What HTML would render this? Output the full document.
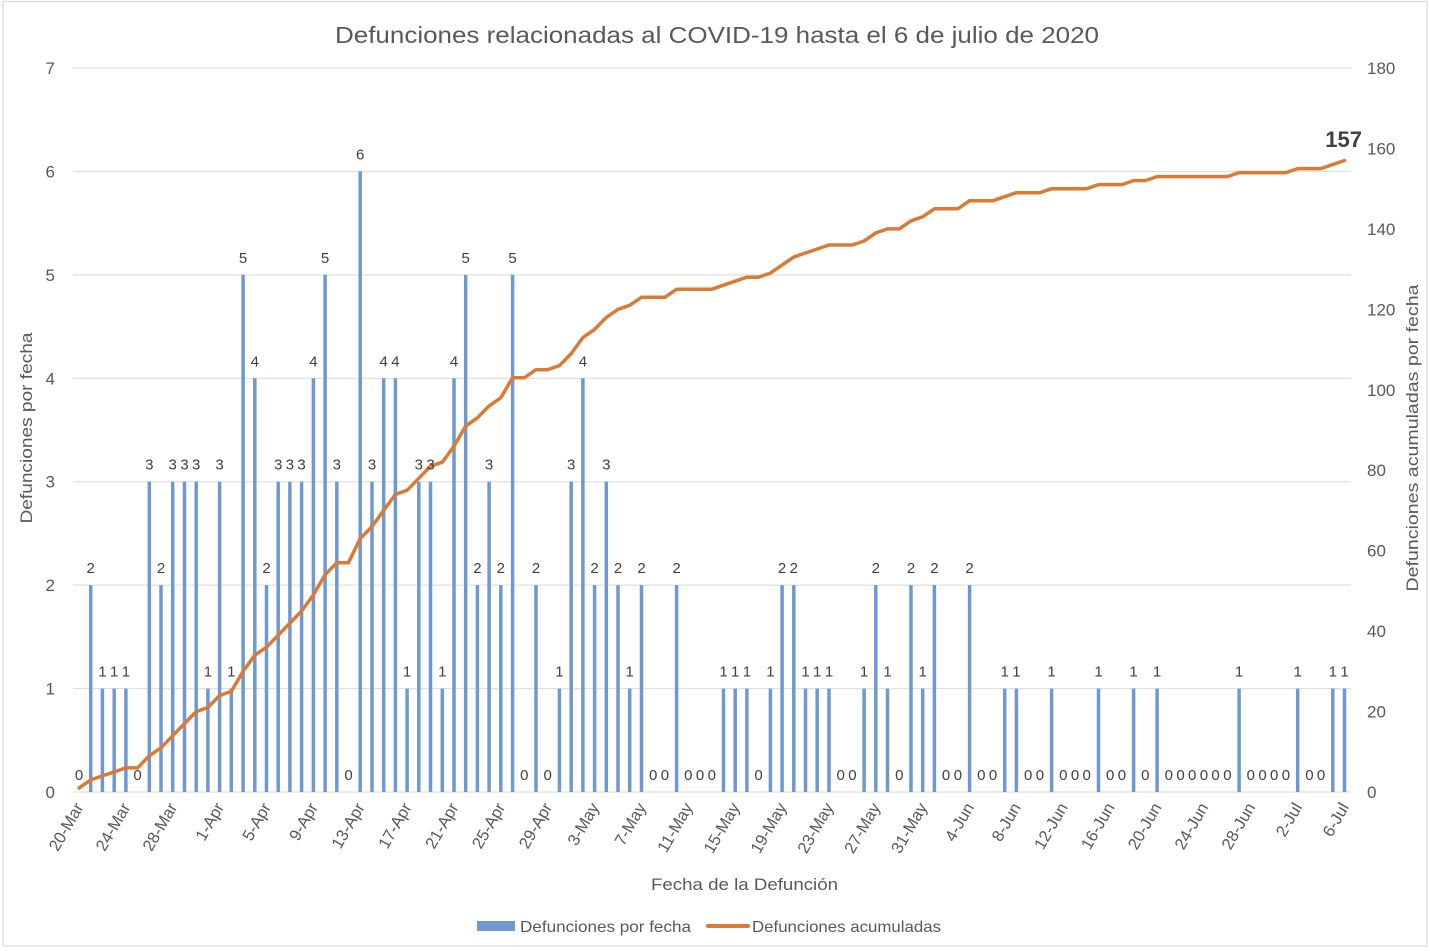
<!DOCTYPE html>
<html>
<head>
<meta charset="utf-8">
<style>
html,body{margin:0;padding:0;background:#fff;}
svg{display:block;font-family:"Liberation Sans",Arial,sans-serif;}
</style>
</head>
<body>
<svg width="1430" height="951" viewBox="0 0 1430 951" xmlns="http://www.w3.org/2000/svg">
<rect x="0" y="0" width="1430" height="951" fill="#fff"/>
<rect x="3" y="1.5" width="1424" height="944.5" fill="none" stroke="#d9d9d9" stroke-width="1.2"/>

<text x="717" y="43" font-size="23" fill="#595959" text-anchor="middle" textLength="764" lengthAdjust="spacingAndGlyphs">Defunciones relacionadas al COVID-19 hasta el 6 de julio de 2020</text>

<g stroke="#d9d9d9" stroke-width="1">
<line x1="73" x2="1351" y1="68" y2="68"/>
<line x1="73" x2="1351" y1="171.4" y2="171.4"/>
<line x1="73" x2="1351" y1="274.9" y2="274.9"/>
<line x1="73" x2="1351" y1="378.3" y2="378.3"/>
<line x1="73" x2="1351" y1="481.7" y2="481.7"/>
<line x1="73" x2="1351" y1="585.1" y2="585.1"/>
<line x1="73" x2="1351" y1="688.6" y2="688.6"/>
<line x1="73" x2="1351" y1="792" y2="792"/>
</g>

<g font-size="17" fill="#595959" text-anchor="end">
<text x="55" y="798">0</text>
<text x="55" y="694.6">1</text>
<text x="55" y="591.1">2</text>
<text x="55" y="487.7">3</text>
<text x="55" y="384.3">4</text>
<text x="55" y="280.9">5</text>
<text x="55" y="177.4">6</text>
<text x="55" y="74">7</text>
</g>
<g font-size="17" fill="#595959" text-anchor="start">
<text x="1367" y="798">0</text>
<text x="1367" y="717.6">20</text>
<text x="1367" y="637.1">40</text>
<text x="1367" y="556.7">60</text>
<text x="1367" y="476.2">80</text>
<text x="1367" y="395.8">100</text>
<text x="1367" y="315.3">120</text>
<text x="1367" y="234.9">140</text>
<text x="1367" y="154.4">160</text>
<text x="1367" y="74">180</text>
</g>

<text transform="translate(32,428) rotate(-90)" font-size="17" fill="#595959" text-anchor="middle" textLength="191" lengthAdjust="spacingAndGlyphs">Defunciones por fecha</text>
<text transform="translate(1418,438) rotate(-90)" font-size="17" fill="#595959" text-anchor="middle" textLength="307" lengthAdjust="spacingAndGlyphs">Defunciones acumuladas por fecha</text>
<text x="744.5" y="890" font-size="17" fill="#595959" text-anchor="middle" textLength="187" lengthAdjust="spacingAndGlyphs">Fecha de la Defunción</text>

<path fill="none" stroke="#6f98d2" stroke-width="3.5" d="M90.7 792V585.1M102.4 792V688.6M114.2 792V688.6M125.9 792V688.6M149.3 792V481.7M161.0 792V585.1M172.7 792V481.7M184.5 792V481.7M196.2 792V481.7M207.9 792V688.6M219.6 792V481.7M231.3 792V688.6M243.1 792V274.9M254.8 792V378.3M266.5 792V585.1M278.2 792V481.7M289.9 792V481.7M301.6 792V481.7M313.4 792V378.3M325.1 792V274.9M336.8 792V481.7M360.2 792V171.4M372.0 792V481.7M383.7 792V378.3M395.4 792V378.3M407.1 792V688.6M418.8 792V481.7M430.5 792V481.7M442.3 792V688.6M454.0 792V378.3M465.7 792V274.9M477.4 792V585.1M489.1 792V481.7M500.8 792V585.1M512.6 792V274.9M536.0 792V585.1M559.4 792V688.6M571.2 792V481.7M582.9 792V378.3M594.6 792V585.1M606.3 792V481.7M618.0 792V585.1M629.7 792V688.6M641.5 792V585.1M676.6 792V585.1M723.5 792V688.6M735.2 792V688.6M746.9 792V688.6M770.4 792V688.6M782.1 792V585.1M793.8 792V585.1M805.5 792V688.6M817.2 792V688.6M829.0 792V688.6M864.1 792V688.6M875.8 792V585.1M887.5 792V688.6M911.0 792V585.1M922.7 792V688.6M934.4 792V585.1M969.6 792V585.1M1004.7 792V688.6M1016.4 792V688.6M1051.6 792V688.6M1098.5 792V688.6M1133.6 792V688.6M1157.1 792V688.6M1239.1 792V688.6M1297.7 792V688.6M1332.8 792V688.6M1344.5 792V688.6"/>

<polyline fill="none" stroke="#d97b34" stroke-width="3.5" stroke-linejoin="round" stroke-linecap="round" points="79,788.0 90.7,779.9 102.4,775.9 114.2,771.9 125.9,767.9 137.6,767.9 149.3,755.8 161.0,747.8 172.7,735.7 184.5,723.6 196.2,711.6 207.9,707.5 219.6,695.5 231.3,691.4 243.1,671.3 254.8,655.2 266.5,647.2 278.2,635.1 289.9,623.1 301.6,611.0 313.4,594.9 325.1,574.8 336.8,562.7 348.5,562.7 360.2,538.6 372.0,526.5 383.7,510.4 395.4,494.4 407.1,490.3 418.8,478.3 430.5,466.2 442.3,462.2 454.0,446.1 465.7,426.0 477.4,417.9 489.1,405.9 500.8,397.8 512.6,377.7 524.3,377.7 536.0,369.7 547.7,369.7 559.4,365.6 571.2,353.6 582.9,337.5 594.6,329.4 606.3,317.4 618.0,309.3 629.7,305.3 641.5,297.3 653.2,297.3 664.9,297.3 676.6,289.2 688.3,289.2 700.1,289.2 711.8,289.2 723.5,285.2 735.2,281.2 746.9,277.2 758.6,277.2 770.4,273.1 782.1,265.1 793.8,257.0 805.5,253.0 817.2,249.0 829.0,245.0 840.7,245.0 852.4,245.0 864.1,241.0 875.8,232.9 887.5,228.9 899.3,228.9 911.0,220.8 922.7,216.8 934.4,208.8 946.1,208.8 957.9,208.8 969.6,200.7 981.3,200.7 993.0,200.7 1004.7,196.7 1016.4,192.7 1028.2,192.7 1039.9,192.7 1051.6,188.7 1063.3,188.7 1075.0,188.7 1086.7,188.7 1098.5,184.6 1110.2,184.6 1121.9,184.6 1133.6,180.6 1145.3,180.6 1157.1,176.6 1168.8,176.6 1180.5,176.6 1192.2,176.6 1203.9,176.6 1215.6,176.6 1227.4,176.6 1239.1,172.6 1250.8,172.6 1262.5,172.6 1274.2,172.6 1285.9,172.6 1297.7,168.6 1309.4,168.6 1321.1,168.6 1332.8,164.5 1344.5,160.5"/>

<g font-size="15" fill="#404040" text-anchor="middle">
<text x="79" y="780">0</text>
<text x="90.7" y="573.1">2</text>
<text x="102.4" y="676.6">1</text>
<text x="114.2" y="676.6">1</text>
<text x="125.9" y="676.6">1</text>
<text x="137.6" y="780">0</text>
<text x="149.3" y="469.7">3</text>
<text x="161.0" y="573.1">2</text>
<text x="172.7" y="469.7">3</text>
<text x="184.5" y="469.7">3</text>
<text x="196.2" y="469.7">3</text>
<text x="207.9" y="676.6">1</text>
<text x="219.6" y="469.7">3</text>
<text x="231.3" y="676.6">1</text>
<text x="243.1" y="262.9">5</text>
<text x="254.8" y="366.3">4</text>
<text x="266.5" y="573.1">2</text>
<text x="278.2" y="469.7">3</text>
<text x="289.9" y="469.7">3</text>
<text x="301.6" y="469.7">3</text>
<text x="313.4" y="366.3">4</text>
<text x="325.1" y="262.9">5</text>
<text x="336.8" y="469.7">3</text>
<text x="348.5" y="780">0</text>
<text x="360.2" y="159.4">6</text>
<text x="372.0" y="469.7">3</text>
<text x="383.7" y="366.3">4</text>
<text x="395.4" y="366.3">4</text>
<text x="407.1" y="676.6">1</text>
<text x="418.8" y="469.7">3</text>
<text x="430.5" y="469.7">3</text>
<text x="442.3" y="676.6">1</text>
<text x="454.0" y="366.3">4</text>
<text x="465.7" y="262.9">5</text>
<text x="477.4" y="573.1">2</text>
<text x="489.1" y="469.7">3</text>
<text x="500.8" y="573.1">2</text>
<text x="512.6" y="262.9">5</text>
<text x="524.3" y="780">0</text>
<text x="536.0" y="573.1">2</text>
<text x="547.7" y="780">0</text>
<text x="559.4" y="676.6">1</text>
<text x="571.2" y="469.7">3</text>
<text x="582.9" y="366.3">4</text>
<text x="594.6" y="573.1">2</text>
<text x="606.3" y="469.7">3</text>
<text x="618.0" y="573.1">2</text>
<text x="629.7" y="676.6">1</text>
<text x="641.5" y="573.1">2</text>
<text x="653.2" y="780">0</text>
<text x="664.9" y="780">0</text>
<text x="676.6" y="573.1">2</text>
<text x="688.3" y="780">0</text>
<text x="700.1" y="780">0</text>
<text x="711.8" y="780">0</text>
<text x="723.5" y="676.6">1</text>
<text x="735.2" y="676.6">1</text>
<text x="746.9" y="676.6">1</text>
<text x="758.6" y="780">0</text>
<text x="770.4" y="676.6">1</text>
<text x="782.1" y="573.1">2</text>
<text x="793.8" y="573.1">2</text>
<text x="805.5" y="676.6">1</text>
<text x="817.2" y="676.6">1</text>
<text x="829.0" y="676.6">1</text>
<text x="840.7" y="780">0</text>
<text x="852.4" y="780">0</text>
<text x="864.1" y="676.6">1</text>
<text x="875.8" y="573.1">2</text>
<text x="887.5" y="676.6">1</text>
<text x="899.3" y="780">0</text>
<text x="911.0" y="573.1">2</text>
<text x="922.7" y="676.6">1</text>
<text x="934.4" y="573.1">2</text>
<text x="946.1" y="780">0</text>
<text x="957.9" y="780">0</text>
<text x="969.6" y="573.1">2</text>
<text x="981.3" y="780">0</text>
<text x="993.0" y="780">0</text>
<text x="1004.7" y="676.6">1</text>
<text x="1016.4" y="676.6">1</text>
<text x="1028.2" y="780">0</text>
<text x="1039.9" y="780">0</text>
<text x="1051.6" y="676.6">1</text>
<text x="1063.3" y="780">0</text>
<text x="1075.0" y="780">0</text>
<text x="1086.7" y="780">0</text>
<text x="1098.5" y="676.6">1</text>
<text x="1110.2" y="780">0</text>
<text x="1121.9" y="780">0</text>
<text x="1133.6" y="676.6">1</text>
<text x="1145.3" y="780">0</text>
<text x="1157.1" y="676.6">1</text>
<text x="1168.8" y="780">0</text>
<text x="1180.5" y="780">0</text>
<text x="1192.2" y="780">0</text>
<text x="1203.9" y="780">0</text>
<text x="1215.6" y="780">0</text>
<text x="1227.4" y="780">0</text>
<text x="1239.1" y="676.6">1</text>
<text x="1250.8" y="780">0</text>
<text x="1262.5" y="780">0</text>
<text x="1274.2" y="780">0</text>
<text x="1285.9" y="780">0</text>
<text x="1297.7" y="676.6">1</text>
<text x="1309.4" y="780">0</text>
<text x="1321.1" y="780">0</text>
<text x="1332.8" y="676.6">1</text>
<text x="1344.5" y="676.6">1</text>
</g>

<text x="1362" y="147" font-size="22" font-weight="bold" fill="#404040" text-anchor="end">157</text>

<g font-size="16.5" fill="#595959" text-anchor="end">
<text transform="translate(84,807) rotate(-60)">20-Mar</text>
<text transform="translate(130.9,807) rotate(-60)">24-Mar</text>
<text transform="translate(177.7,807) rotate(-60)">28-Mar</text>
<text transform="translate(224.6,807) rotate(-60)">1-Apr</text>
<text transform="translate(271.5,807) rotate(-60)">5-Apr</text>
<text transform="translate(318.4,807) rotate(-60)">9-Apr</text>
<text transform="translate(365.2,807) rotate(-60)">13-Apr</text>
<text transform="translate(412.1,807) rotate(-60)">17-Apr</text>
<text transform="translate(459.0,807) rotate(-60)">21-Apr</text>
<text transform="translate(505.8,807) rotate(-60)">25-Apr</text>
<text transform="translate(552.7,807) rotate(-60)">29-Apr</text>
<text transform="translate(599.6,807) rotate(-60)">3-May</text>
<text transform="translate(646.5,807) rotate(-60)">7-May</text>
<text transform="translate(693.3,807) rotate(-60)">11-May</text>
<text transform="translate(740.2,807) rotate(-60)">15-May</text>
<text transform="translate(787.1,807) rotate(-60)">19-May</text>
<text transform="translate(834.0,807) rotate(-60)">23-May</text>
<text transform="translate(880.8,807) rotate(-60)">27-May</text>
<text transform="translate(927.7,807) rotate(-60)">31-May</text>
<text transform="translate(974.6,807) rotate(-60)">4-Jun</text>
<text transform="translate(1021.4,807) rotate(-60)">8-Jun</text>
<text transform="translate(1068.3,807) rotate(-60)">12-Jun</text>
<text transform="translate(1115.2,807) rotate(-60)">16-Jun</text>
<text transform="translate(1162.1,807) rotate(-60)">20-Jun</text>
<text transform="translate(1208.9,807) rotate(-60)">24-Jun</text>
<text transform="translate(1255.8,807) rotate(-60)">28-Jun</text>
<text transform="translate(1302.7,807) rotate(-60)">2-Jul</text>
<text transform="translate(1349.5,807) rotate(-60)">6-Jul</text>
</g>

<rect x="477" y="921" width="38" height="10" fill="#6f98d2"/>
<text x="520" y="932" font-size="16" fill="#595959" textLength="171" lengthAdjust="spacingAndGlyphs">Defunciones por fecha</text>
<line x1="708" y1="926" x2="748" y2="926" stroke="#d97b34" stroke-width="4" stroke-linecap="round"/>
<text x="752" y="932" font-size="16" fill="#595959" textLength="189" lengthAdjust="spacingAndGlyphs">Defunciones acumuladas</text>
</svg>
</body>
</html>
